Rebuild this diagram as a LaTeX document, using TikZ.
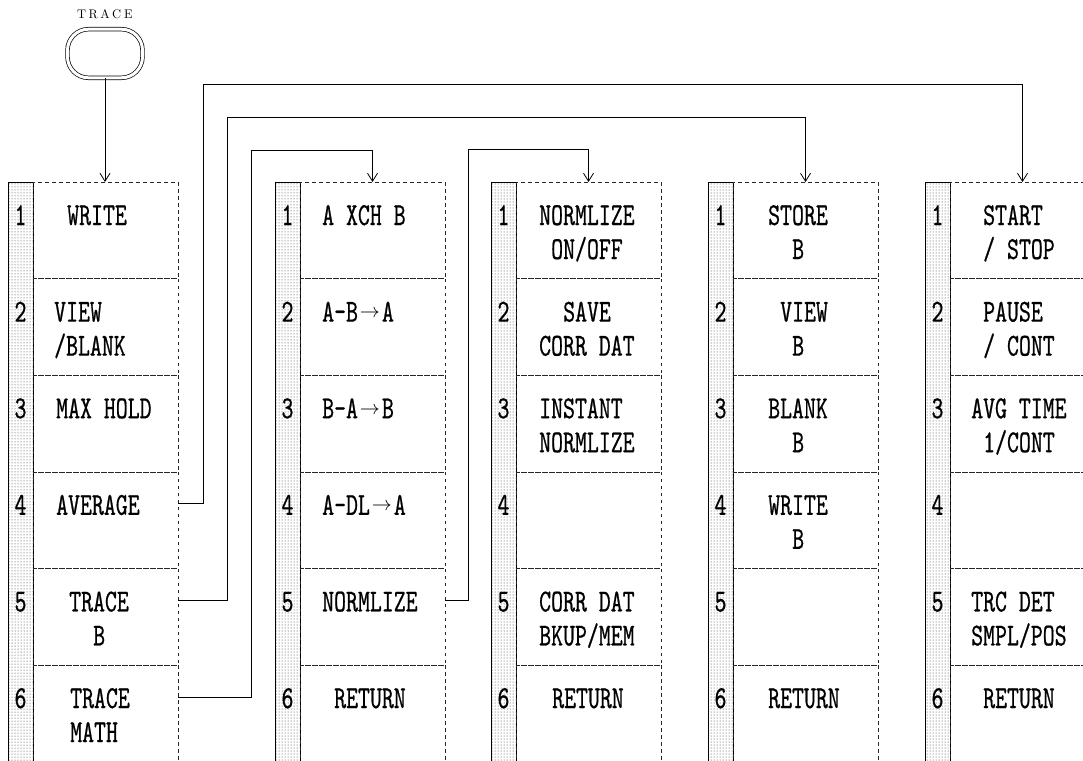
\documentclass[tikz,border=0pt]{standalone}
\usepackage{fontspec}
\usepackage{graphicx}
\newfontfamily\mfont{lmmono10-regular.otf}[FakeStretch=0.71,FakeBold=0.6]
\newfontfamily\tfont{lmroman10-regular.otf}
\usetikzlibrary{arrows.meta,patterns,calc}
\newcommand\rarr{\makebox[24pt]{\raisebox{4pt}{\resizebox{20pt}{!}{$\rightarrow$}}}}
\newcommand\spch[1]{\makebox[11.7pt]{#1}}
\begin{document}
\begin{tikzpicture}[x=1pt,y=-1pt,
  cell/.style={draw=black!85, dash pattern=on 3.5pt off 3.5pt, line width=0.6pt,
    minimum width=145pt, minimum height=96.6pt, inner sep=0pt, outer sep=0pt, anchor=north west},
  strip/.style={draw, line width=0.7pt, pattern=dots, pattern color=black!80,
    minimum width=25pt, minimum height=580pt, inner sep=0pt, outer sep=0pt, anchor=north west},
  num/.style={font=\mfont\fontsize{32}{33}\selectfont, inner sep=0pt, anchor=base},
  txt/.style={font=\mfont\fontsize{32}{33}\selectfont, inner sep=0pt, anchor=base west},
  conn/.style={line width=0.8pt, -{Straight Barb[length=8pt,width=10pt]}},
  button/.style={draw, double, double distance=3pt, line width=0.7pt, rounded corners=21pt,
    minimum width=75pt, minimum height=48.6pt, inner sep=0pt},
]
\fill[white] (0,0) rectangle (1083,760);
\useasboundingbox (0,0) rectangle (1083,760);

% button
\node[font=\tfont\fontsize{12.5}{12.5}\selectfont, anchor=base, inner sep=0pt] (lbl) at (105,18.5)
  {\spch{T}\spch{R}\spch{A}\spch{C}\spch{E}};
\node[button] (btn) at (105,53.5) {};

% columns
\foreach \cc/\sx in {1/8,2/275,3/491,4/708,5/925} {
  \node[strip] (s\cc) at (\sx,182) {};
  \foreach \rr in {1,...,6} {
    \node[cell] (c\cc r\rr) at (\sx+25, 182+96.6*\rr-96.6) {};
    \node[num] (n\cc r\rr) at (\sx+12.5, 182+96.6*\rr-96.6+43) {\rr};
  }
}

% column 1
\node[txt] (t11a) at (67,225) {WRITE};
\node[txt] (t12a) at (54,321.6) {VIEW};
\node[txt] (t12b) at (54,355.6) {/BLANK};
\node[txt] (t13a) at (56,418.2) {MAX HOLD};
\node[txt] (t14a) at (56,514.8) {AVERAGE};
\node[txt] (t15a) at (69,611.4) {TRACE};
\node[txt] (t15b) at (93,645.4) {B};
\node[txt] (t16a) at (70,708) {TRACE};
\node[txt] (t16b) at (70,742) {MATH};

% column 2
\node[txt] (t21a) at (322,225) {A XCH B};
\node[txt] (t22a) at (322,321.6) {A-B\rarr A};
\node[txt] (t23a) at (322,418.2) {B-A\rarr B};
\node[txt] (t24a) at (322,514.8) {A-DL\rarr A};
\node[txt] (t25a) at (322,611.4) {NORMLIZE};
\node[txt] (t26a) at (334,708) {RETURN};

% column 3
\node[txt] (t31a) at (539,225) {NORMLIZE};
\node[txt] (t31b) at (551,259) {ON/OFF};
\node[txt] (t32a) at (563,321.6) {SAVE};
\node[txt] (t32b) at (539,355.6) {CORR DAT};
\node[txt] (t33a) at (539,418.2) {INSTANT};
\node[txt] (t33b) at (539,452.2) {NORMLIZE};
\node[txt] (t35a) at (539,611.4) {CORR DAT};
\node[txt] (t35b) at (539,645.4) {BKUP/MEM};
\node[txt] (t36a) at (552,708) {RETURN};

% column 4
\node[txt] (t41a) at (768,225) {STORE};
\node[txt] (t41b) at (792,259) {B};
\node[txt] (t42a) at (780,321.6) {VIEW};
\node[txt] (t42b) at (792,355.6) {B};
\node[txt] (t43a) at (768,418.2) {BLANK};
\node[txt] (t43b) at (792,452.2) {B};
\node[txt] (t44a) at (768,514.8) {WRITE};
\node[txt] (t44b) at (792,548.8) {B};
\node[txt] (t46a) at (768,708) {RETURN};

% column 5
\node[txt] (t51a) at (983,225) {START};
\node[txt] (t51b) at (983,259) {/ STOP};
\node[txt] (t52a) at (983,321.6) {PAUSE};
\node[txt] (t52b) at (983,355.6) {/ CONT};
\node[txt] (t53a) at (971,418.2) {AVG TIME};
\node[txt] (t53b) at (983,452.2) {1/CONT};
\node[txt] (t55a) at (971,611.4) {TRC DET};
\node[txt] (t55b) at (971,645.4) {SMPL/POS};
\node[txt] (t56a) at (983,708) {RETURN};

% connectors
\coordinate (jA) at (203,84);
\coordinate (jB) at (227,117);
\coordinate (jC) at (251,150);
\coordinate (jD) at (468,149);
\draw[conn] (btn.south) -- (btn.south |- c1r1.north);
\draw[conn] ($(c1r4.north east)+(0,31.5)$) -| (jA) -| (c5r1.north);
\draw[conn] ($(c1r5.north east)+(0,31.5)$) -| (jB) -| (c4r1.north);
\draw[conn] ($(c1r6.north east)+(0,32)$) -| (jC) -| (c2r1.north);
\draw[conn] ($(c2r5.north east)+(0,31.5)$) -| (jD) -| (c3r1.north);
\end{tikzpicture}
\end{document}
